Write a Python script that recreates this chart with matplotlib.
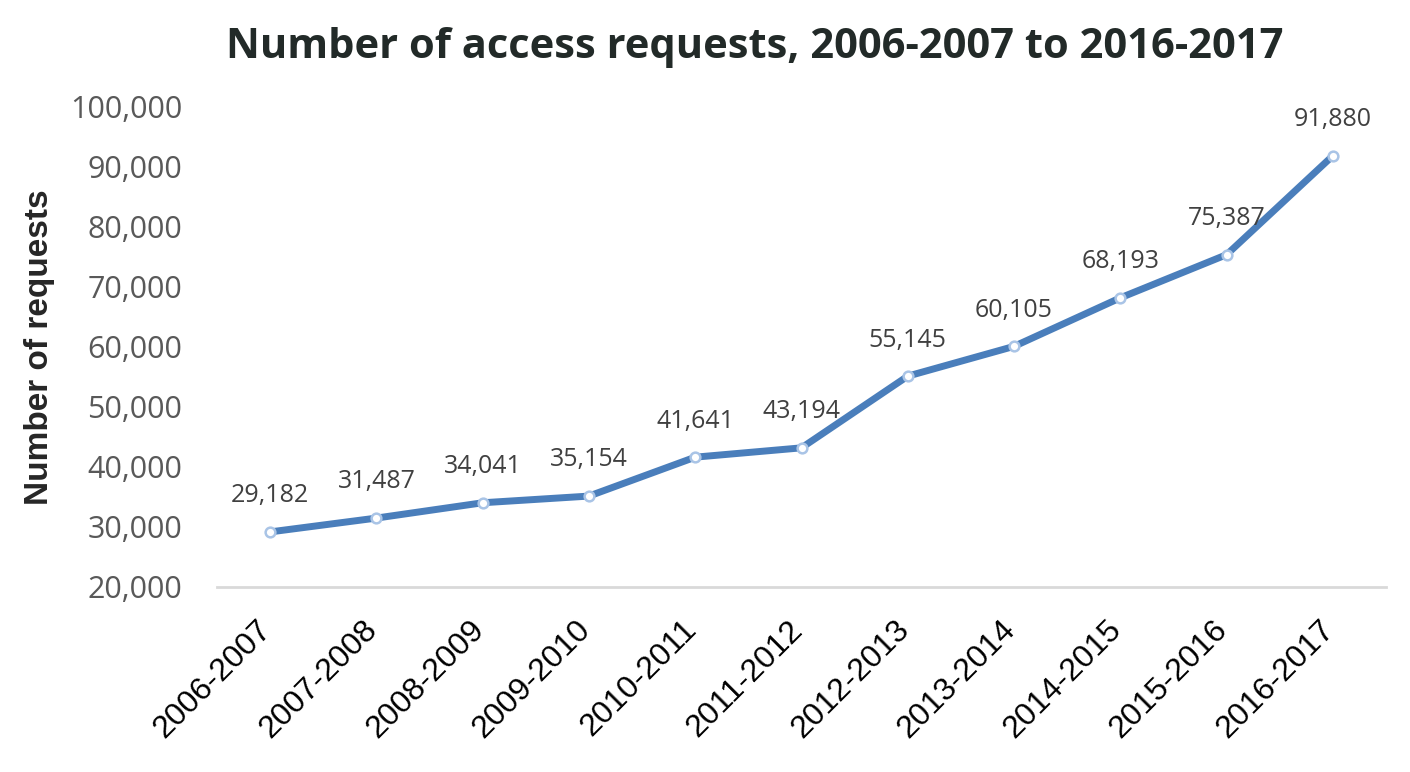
import matplotlib
matplotlib.use("Agg")
import matplotlib.pyplot as plt
import matplotlib.transforms as mtransforms
from matplotlib.ticker import FuncFormatter

# data
years = ["2006-2007", "2007-2008", "2008-2009", "2009-2010", "2010-2011",
         "2011-2012", "2012-2013", "2013-2014", "2014-2015", "2015-2016",
         "2016-2017"]
requests = [29182, 31487, 34041, 35154, 41641, 43194, 55145, 60105,
            68193, 75387, 91880]
y_ticks = [20000, 30000, 40000, 50000, 60000, 70000, 80000, 90000, 100000]

fig = plt.figure(figsize=(14.1, 7.72), dpi=100)
ax = fig.add_axes([217 / 1410, 1 - 587 / 772, (1386 - 217) / 1410, (587 - 107) / 772])

x = list(range(len(years)))
ax.plot(x, requests, color="#4a7ebb", lw=5, solid_capstyle="round",
        marker="o", markersize=7, markerfacecolor="white",
        markeredgecolor="#a9c4e6", markeredgewidth=1.8, zorder=3)

for xi, v in zip(x, requests):
    ax.annotate(f"{v:,}", (xi, v), xytext=(0, 26), textcoords="offset points",
                ha="center", va="center", fontsize=18, family="Open Sans",
                color="#404040")

ax.set_xlim(-0.5, len(years) - 0.5)
ax.set_ylim(20000, 100000)
ax.set_yticks(y_ticks)
ax.yaxis.set_major_formatter(FuncFormatter(lambda v, p: f"{int(v):,}"))
ax.set_xticks(x)

ax.tick_params(axis="both", length=0)
ax.tick_params(axis="y", pad=25)
ax.tick_params(axis="x", pad=10)
for s in ["top", "right", "left"]:
    ax.spines[s].set_visible(False)
ax.spines["bottom"].set_color("#d9d9d9")
ax.spines["bottom"].set_linewidth(2)

ax.set_xticklabels(years, rotation=45, ha="right", rotation_mode="anchor",
                   fontsize=23, family="Liberation Sans", color="black")
# push the slanted labels down-left along their baseline
shift = mtransforms.ScaledTranslation(-10 / 72, -10 / 72, fig.dpi_scale_trans)
for tick in ax.xaxis.get_major_ticks():
    tick.label1.set_transform(tick.label1.get_transform() + shift)
for lab in ax.get_yticklabels():
    lab.set_family("Open Sans")
    lab.set_fontsize(22)
    lab.set_color("#595959")

ax.set_ylabel("Number of requests", fontsize=24, fontweight="bold",
              family="Liberation Sans", color="#262626")
ax.yaxis.set_label_coords(-0.1386, 0.5)

fig.text(0.535, 0.938, "Number of access requests, 2006-2007 to 2016-2017",
         ha="center", va="center", fontsize=30, fontweight="bold",
         family="Open Sans", color="#222a28")

fig.savefig("out.png", dpi=100)
